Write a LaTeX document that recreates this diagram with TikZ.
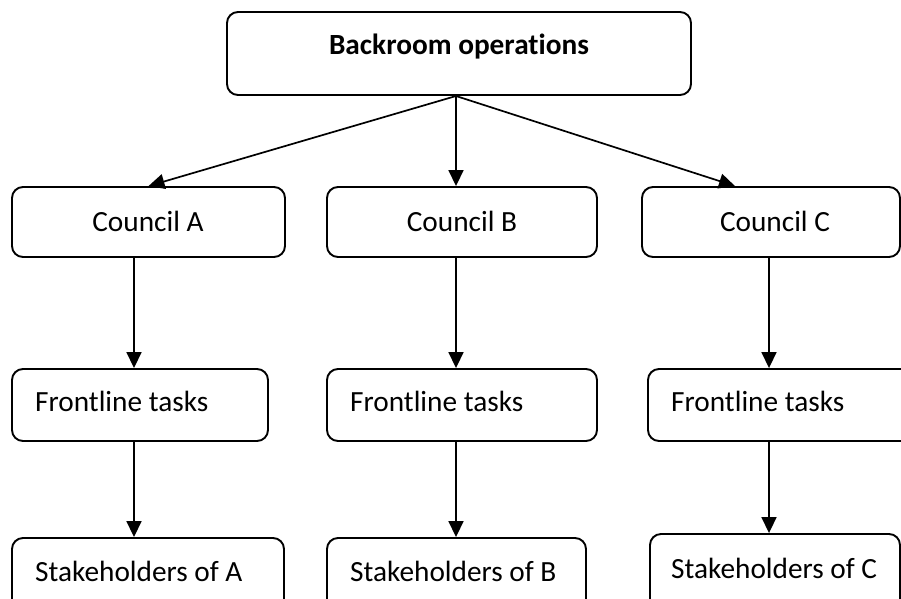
\documentclass[tikz,border=0pt]{standalone}
\usepackage{fontspec}
\setmainfont{Carlito}[RawFeature={-liga}]
\usetikzlibrary{arrows.meta,calc}
\begin{document}
\begin{tikzpicture}[x=1pt,y=-1pt,
  box/.style={draw, line width=1.9pt, rounded corners=11pt},
  lbl/.style={inner sep=0pt, font=\fontsize{29.3}{35}\selectfont},
  flow/.style={line width=1.7pt, -{Triangle[length=16pt,width=15pt]}}]
\useasboundingbox (0,0) rectangle (901,598);
\clip (0,0) rectangle (901,598);

% boxes: name, corners (x1,y1) (x2,y2)
\newcommand{\boxat}[5]{%
  \node[box, inner sep=0pt, minimum width={#4-#2}, minimum height={#5-#3}]
    (#1) at ({(#2+#4)/2},{(#3+#5)/2}) {};}
\boxat{top}{227}{12}{691}{95}
\boxat{ca}{12}{187}{285}{257}
\boxat{cb}{327}{187}{597}{257}
\boxat{cc}{642}{187}{900}{257}
\boxat{fa}{12}{369}{268}{441}
\boxat{fb}{327}{369}{597}{441}
\boxat{fc}{648}{369}{915}{441}
\boxat{sa}{12}{538}{284}{620}
\boxat{sb}{327}{538}{586}{620}
\boxat{sc}{650}{534}{900}{620}

% labels
\node[lbl, anchor=base, font=\fontsize{29.3}{35}\selectfont\bfseries] (ttop) at (459,54) {Backroom operations};
\node[lbl, anchor=base] (tca) at (148,231) {Council A};
\node[lbl, anchor=base] (tcb) at (462,231) {Council B};
\node[lbl, anchor=base] (tcc) at (775,231) {Council C};
\node[lbl, anchor=base west] (tfa) at (35,411) {Frontline tasks};
\node[lbl, anchor=base west] (tfb) at (350,411) {Frontline tasks};
\node[lbl, anchor=base west] (tfc) at (671,411) {Frontline tasks};
\node[lbl, anchor=base west] (tsa) at (35,581) {Stakeholders of A};
\node[lbl, anchor=base west] (tsb) at (350,581) {Stakeholders of B};
\node[lbl, anchor=base west] (tsc) at (671,578) {Stakeholders of C};

% connectors
\coordinate (hub) at (456,96);
\coordinate (colA) at (134,0);
\coordinate (colB) at (456,0);
\coordinate (colC) at (769,0);
\draw[flow] (hub) -- (ca.north);
\draw[flow] (hub) -- (hub |- cb.north);
\draw[flow] (hub) -- ([xshift=-36pt]cc.north);
\draw[flow] (colA |- ca.south) -- (colA |- fa.north);
\draw[flow] (colB |- cb.south) -- (colB |- fb.north);
\draw[flow] (colC |- cc.south) -- (colC |- fc.north);
\draw[flow] (colA |- fa.south) -- (colA |- sa.north);
\draw[flow] (colB |- fb.south) -- (colB |- sb.north);
\draw[flow] (colC |- fc.south) -- (colC |- sc.north);
\end{tikzpicture}
\end{document}
